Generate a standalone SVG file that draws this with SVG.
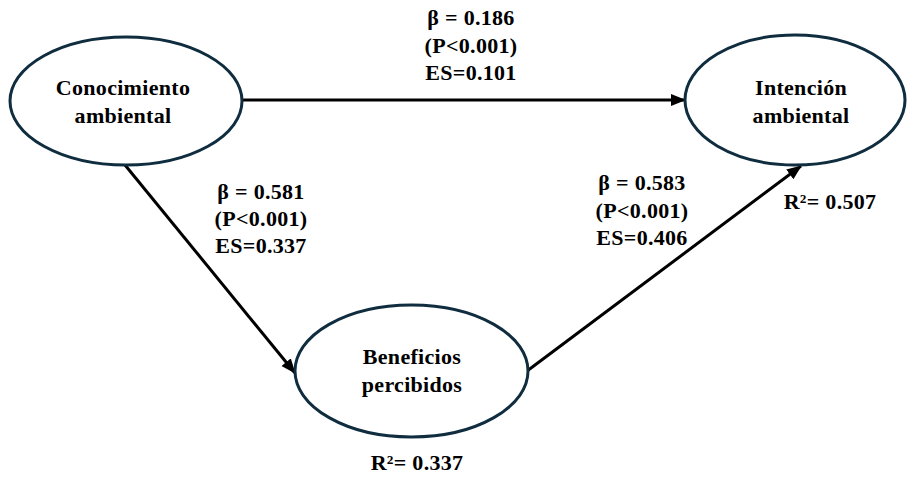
<svg xmlns="http://www.w3.org/2000/svg" width="907" height="479" viewBox="0 0 907 479">
<defs>
<style>
.node ellipse{fill:#ffffff;stroke:#0f2d3e;stroke-width:3}
.t{font-family:'Liberation Serif','Times New Roman','DejaVu Serif',serif;font-weight:700;font-size:22px;letter-spacing:0.3px;fill:#000000;text-anchor:middle}
.edge{stroke:#000000;stroke-width:3;fill:none;marker-end:url(#arrow)}
</style>
<marker id="arrow" markerUnits="userSpaceOnUse" markerWidth="16" markerHeight="14" refX="14" refY="6" orient="auto">
<path d="M0,0 L15,6 L0,12 Z" fill="#000000"/>
</marker>
</defs>
<rect width="907" height="479" fill="#ffffff"/>
<g id="connectors">
<line class="edge" x1="243" y1="100" x2="685" y2="100"/>
<line class="edge" x1="125" y1="165" x2="295" y2="373"/>
<line class="edge" x1="527" y1="371" x2="801" y2="166"/>
</g>
<g id="node-conocimiento" class="node">
<ellipse cx="126" cy="101" rx="116" ry="64"/>
<text class="t" x="123" y="95">Conocimiento</text>
<text class="t" x="123" y="123">ambiental</text>
</g>
<g id="node-intencion" class="node">
<ellipse cx="795" cy="100" rx="110" ry="65"/>
<text class="t" x="801" y="95">Intención</text>
<text class="t" x="801" y="123">ambiental</text>
<text class="t" x="830" y="209">R²= 0.507</text>
</g>
<g id="node-beneficios" class="node">
<ellipse cx="411.5" cy="371" rx="116.5" ry="66"/>
<text class="t" x="412" y="364">Beneficios</text>
<text class="t" x="412" y="392">percibidos</text>
<text class="t" x="417" y="470">R²= 0.337</text>
</g>
<g id="labels">
<text class="t" x="471" y="25">β = 0.186</text>
<text class="t" x="471" y="53">(P&lt;0.001)</text>
<text class="t" x="471" y="80">ES=0.101</text>
<text class="t" x="261" y="199">β = 0.581</text>
<text class="t" x="261" y="226">(P&lt;0.001)</text>
<text class="t" x="261" y="253">ES=0.337</text>
<text class="t" x="642" y="190">β = 0.583</text>
<text class="t" x="642" y="218">(P&lt;0.001)</text>
<text class="t" x="642" y="245">ES=0.406</text>
</g>
</svg>
